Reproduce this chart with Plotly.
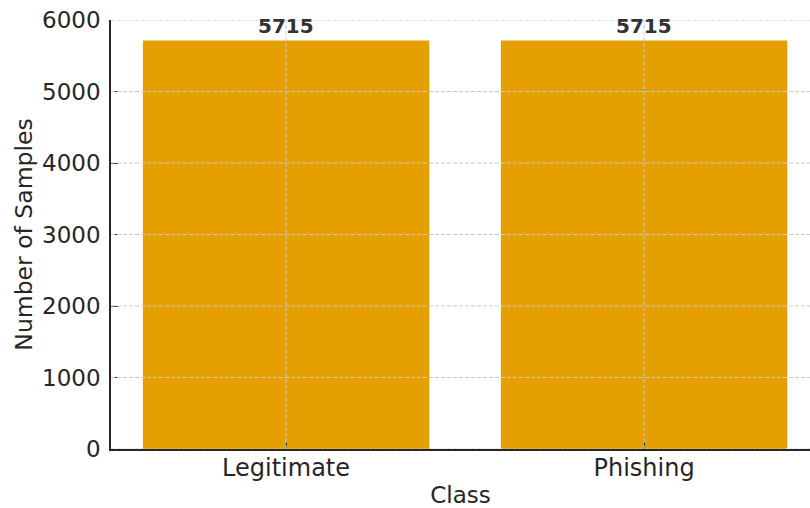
import plotly.graph_objects as go

# Class distribution of the dataset
classes = ["Legitimate", "Phishing"]
counts = [5715, 5715]
y_ticks = [0, 1000, 2000, 3000, 4000, 5000, 6000]

BAR_COLOR = "#E69F00"
TEXT_COLOR = "#262626"
GRID_COLOR = "#c8c8c8"
FONT = "DejaVu Sans"
GRID_DASH = "4px,2px"

fig = go.Figure()
fig.add_trace(go.Bar(
    x=list(range(len(classes))),
    y=counts,
    width=0.8,
    marker=dict(color=BAR_COLOR, line=dict(width=0)),
    hoverinfo="skip",
))

# value labels above each bar
for i, v in enumerate(counts):
    fig.add_annotation(
        x=i, y=v, text=f"<b>{v}</b>", showarrow=False,
        yanchor="bottom", yshift=0,
        font=dict(family=FONT, size=20, color="#333333"),
    )

# dashed grid drawn on top of the bars
for t in y_ticks:
    fig.add_shape(
        type="line", xref="paper", yref="y", x0=0, x1=1, y0=t, y1=t,
        line=dict(color=GRID_COLOR, width=1, dash=GRID_DASH), layer="above",
    )
for i in range(len(classes)):
    fig.add_shape(
        type="line", xref="x", yref="paper", x0=i, x1=i, y0=0, y1=1,
        line=dict(color=GRID_COLOR, width=1, dash=GRID_DASH), layer="above",
    )

fig.update_layout(
    width=810, height=508,
    margin=dict(l=111, r=0, t=20, b=59),
    paper_bgcolor="white", plot_bgcolor="white",
    showlegend=False,
    font=dict(family=FONT, size=23, color=TEXT_COLOR),
    xaxis=dict(
        range=[-0.489, 1.4635],
        tickmode="array",
        tickvals=list(range(len(classes))),
        ticktext=classes,
        tickfont=dict(size=24),
        ticks="inside", ticklen=7, tickwidth=1.2, tickcolor=TEXT_COLOR,
        showline=True, linecolor=TEXT_COLOR, linewidth=1.6,
        showgrid=False,
        zeroline=False,
        ticklabelstandoff=-4,
        title=dict(text="Class", standoff=11, font=dict(size=23)),
        layer="above traces",
    ),
    yaxis=dict(
        range=[0, 6000],
        tickmode="array",
        tickvals=y_ticks,
        ticktext=[str(t) for t in y_ticks],
        tickfont=dict(size=23),
        ticks="inside", ticklen=7, tickwidth=1.2, tickcolor=TEXT_COLOR,
        showline=True, linecolor=TEXT_COLOR, linewidth=1.6,
        showgrid=False,
        zeroline=False,
        ticklabelstandoff=4,
        title=dict(text="Number of Samples", standoff=3, font=dict(size=23.5)),
        layer="above traces",
    ),
)

fig.write_html("out.html")
